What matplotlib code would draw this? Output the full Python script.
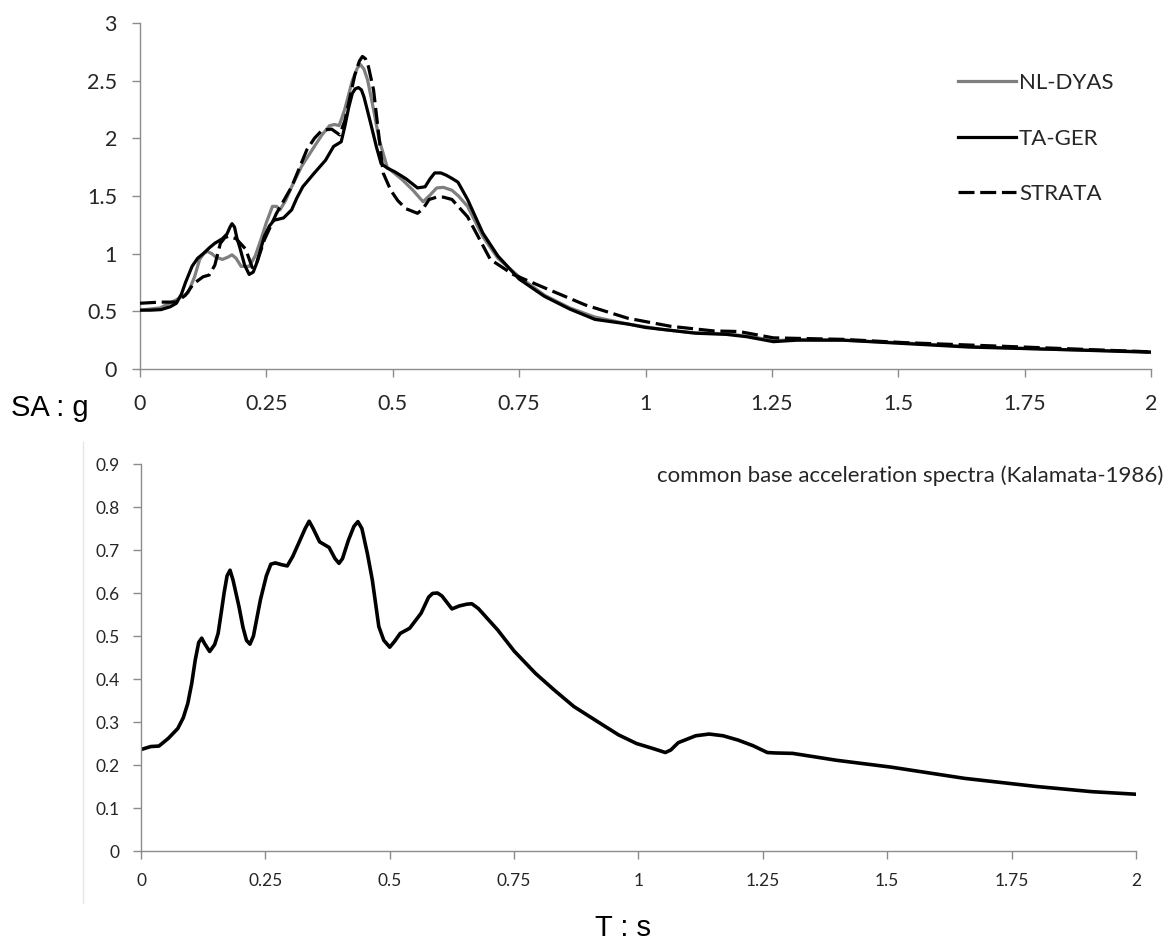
import matplotlib
matplotlib.use("Agg")
import matplotlib.pyplot as plt
from matplotlib.lines import Line2D

# top panel: surface response spectra (T in s, SA in g)
t_nl = [0, 0.04, 0.072, 0.095, 0.108, 0.118, 0.126, 0.133, 0.142, 0.15, 0.163, 0.174, 0.182,
        0.19, 0.2, 0.216, 0.228, 0.239, 0.25, 0.262, 0.27, 0.277, 0.288, 0.3, 0.32, 0.345,
        0.36, 0.375, 0.385, 0.394, 0.405, 0.42, 0.43, 0.436, 0.443, 0.45, 0.462, 0.473,
        0.489, 0.519, 0.54, 0.56, 0.572, 0.587, 0.6, 0.617, 0.63, 0.648, 0.678, 0.708,
        0.75, 0.8, 0.85, 0.9, 0.965, 1.03, 1.09, 1.16, 1.21, 1.253, 1.3, 1.39, 1.515,
        1.64, 1.81, 2.0]
sa_nl = [0.51, 0.53, 0.6, 0.66, 0.8, 0.95, 1.0, 1.02, 1.0, 0.97, 0.95, 0.97, 0.99,
         0.96, 0.89, 0.89, 0.98, 1.12, 1.27, 1.41, 1.41, 1.38, 1.46, 1.58, 1.76, 1.93,
         2.03, 2.11, 2.12, 2.11, 2.25, 2.5, 2.61, 2.64, 2.6, 2.51, 2.25, 1.99,
         1.75, 1.64, 1.55, 1.45, 1.5, 1.57, 1.575, 1.55, 1.5, 1.41, 1.15, 0.96,
         0.8, 0.64, 0.53, 0.45, 0.39, 0.345, 0.315, 0.305, 0.28, 0.245, 0.255, 0.25, 0.225,
         0.195, 0.17, 0.15]

t_ta = [0, 0.02, 0.042, 0.06, 0.072, 0.082, 0.09, 0.103, 0.114, 0.125, 0.137, 0.148, 0.163,
        0.172, 0.178, 0.182, 0.187, 0.192, 0.197, 0.207, 0.216, 0.224, 0.231, 0.246, 0.256,
        0.265, 0.275, 0.284, 0.3, 0.31, 0.322, 0.345, 0.367, 0.383, 0.398, 0.405, 0.413,
        0.42, 0.426, 0.432, 0.438, 0.443, 0.45, 0.458, 0.468, 0.477, 0.49, 0.504, 0.526,
        0.549, 0.564, 0.574, 0.583, 0.595, 0.606, 0.618, 0.629, 0.648, 0.678, 0.708, 0.75,
        0.8, 0.85, 0.9, 0.965, 1.0, 1.1, 1.16, 1.2, 1.253, 1.3, 1.39, 1.515, 1.64, 1.81, 2.0]
sa_ta = [0.51, 0.51, 0.515, 0.54, 0.57, 0.65, 0.75, 0.89, 0.96, 1.0, 1.05, 1.09, 1.13,
         1.17, 1.23, 1.26, 1.23, 1.13, 1.06, 0.9, 0.82, 0.84, 0.92, 1.15, 1.24,
         1.29, 1.3, 1.31, 1.38, 1.48, 1.58, 1.7, 1.81, 1.93, 1.97, 2.1, 2.27,
         2.39, 2.43, 2.44, 2.42, 2.36, 2.24, 2.1, 1.92, 1.78, 1.74, 1.71, 1.65,
         1.57, 1.58, 1.65, 1.7, 1.7, 1.68, 1.65, 1.62, 1.47, 1.18, 0.98, 0.78,
         0.63, 0.52, 0.43, 0.39, 0.36, 0.31, 0.3, 0.28, 0.237, 0.25, 0.25, 0.22, 0.19, 0.17, 0.145]

t_st = [0, 0.04, 0.072, 0.09, 0.106, 0.125, 0.137, 0.148, 0.159, 0.168, 0.175, 0.19, 0.209,
        0.222, 0.231, 0.246, 0.27, 0.3, 0.33, 0.345, 0.36, 0.379, 0.395, 0.405, 0.425, 0.434,
        0.44, 0.446, 0.452, 0.462, 0.481, 0.496, 0.51, 0.526, 0.549, 0.56, 0.572, 0.587,
        0.6, 0.617, 0.648, 0.693, 0.738, 0.797, 0.881, 0.965, 1.05, 1.135, 1.185, 1.253,
        1.39, 1.515, 1.75, 2.0]
sa_st = [0.57, 0.58, 0.58, 0.64, 0.74, 0.8, 0.815, 0.9, 1.09, 1.14, 1.15, 1.13, 1.04,
         0.88, 0.92, 1.12, 1.35, 1.58, 1.9, 2.0, 2.07, 2.08, 2.03, 2.15, 2.55, 2.67,
         2.71, 2.69, 2.62, 2.42, 1.7, 1.55, 1.46, 1.39, 1.35, 1.39, 1.47, 1.49,
         1.49, 1.47, 1.32, 0.95, 0.82, 0.71, 0.555, 0.44, 0.37, 0.33, 0.325, 0.27,
         0.257, 0.228, 0.19, 0.148]

# bottom panel: common base acceleration spectrum
t_base = [0, 0.02, 0.036, 0.055, 0.074, 0.085, 0.094, 0.102, 0.109, 0.116, 0.122, 0.128,
          0.138, 0.148, 0.155, 0.162, 0.167, 0.173, 0.179, 0.185, 0.197, 0.205, 0.212,
          0.219, 0.226, 0.24, 0.252, 0.261, 0.27, 0.282, 0.294, 0.305, 0.317, 0.33, 0.338,
          0.346, 0.359, 0.378, 0.39, 0.398, 0.405, 0.417, 0.428, 0.436, 0.444, 0.455,
          0.465, 0.478, 0.488, 0.5, 0.51, 0.521, 0.54, 0.563, 0.578, 0.586, 0.596, 0.605,
          0.625, 0.64, 0.655, 0.665, 0.678, 0.717, 0.75, 0.793, 0.83, 0.87, 0.923, 0.96,
          0.996, 1.03, 1.054, 1.065, 1.08, 1.115, 1.142, 1.17, 1.2, 1.23, 1.259, 1.275,
          1.31, 1.398, 1.508, 1.655, 1.8, 1.911, 2.0]
sa_base = [0.236, 0.243, 0.244, 0.262, 0.285, 0.31, 0.343, 0.39, 0.444, 0.485, 0.495, 0.482,
           0.464, 0.48, 0.506, 0.56, 0.6, 0.64, 0.653, 0.63, 0.568, 0.52, 0.49,
           0.481, 0.5, 0.584, 0.64, 0.667, 0.67, 0.666, 0.663, 0.685, 0.716, 0.75, 0.767,
           0.75, 0.719, 0.706, 0.68, 0.669, 0.68, 0.723, 0.755, 0.766, 0.75, 0.692,
           0.63, 0.522, 0.49, 0.474, 0.488, 0.506, 0.518, 0.553, 0.59, 0.599, 0.6, 0.593,
           0.563, 0.57, 0.574, 0.575, 0.564, 0.514, 0.465, 0.413, 0.375, 0.336, 0.297, 0.27,
           0.25, 0.238, 0.229, 0.235, 0.252, 0.268, 0.272, 0.268, 0.258, 0.245, 0.229, 0.228,
           0.227, 0.211, 0.195, 0.169, 0.15, 0.138, 0.132]

x_ticks = [0, 0.25, 0.5, 0.75, 1, 1.25, 1.5, 1.75, 2]
x_labels = ["0", "0.25", "0.5", "0.75", "1", "1.25", "1.5", "1.75", "2"]
top_y_ticks = [0, 0.5, 1, 1.5, 2, 2.5, 3]
top_y_labels = ["0", "0.5", "1", "1.5", "2", "2.5", "3"]
bot_y_ticks = [0, 0.1, 0.2, 0.3, 0.4, 0.5, 0.6, 0.7, 0.8, 0.9]
bot_y_labels = ["0", "0.1", "0.2", "0.3", "0.4", "0.5", "0.6", "0.7", "0.8", "0.9"]

plt.rcParams["font.family"] = ["Lato", "DejaVu Sans"]
plt.rcParams["lines.solid_joinstyle"] = "round"
plt.rcParams["lines.dash_joinstyle"] = "round"
AXIS_GREY = "#8c8c8c"
TEXT_COL = "#262626"

fig = plt.figure(figsize=(11.71, 9.43), dpi=100)
ax1 = fig.add_axes([0.11956, 0.60870, 0.86336, 0.36691])
ax2 = fig.add_axes([0.12041, 0.09756, 0.84970, 0.41039])


def style_axis(ax, fs, xpad, ypad):
    for side in ("top", "right"):
        ax.spines[side].set_visible(False)
    for side in ("left", "bottom"):
        ax.spines[side].set_color(AXIS_GREY)
        ax.spines[side].set_linewidth(1.0)
    ax.tick_params(axis="both", direction="out", length=6, width=1.0,
                   color=AXIS_GREY, labelcolor=TEXT_COL, labelsize=fs)
    ax.tick_params(axis="x", pad=xpad)
    ax.tick_params(axis="y", pad=ypad)


ax1.plot(t_nl, sa_nl, color="#7f7f7f", lw=2.3, label="NL-DYAS", zorder=2)
ax1.plot(t_ta, sa_ta, color="black", lw=2.3, label="TA-GER", zorder=3)
ax1.plot(t_st, sa_st, color="black", lw=2.3, ls=(0, (5, 1.8)), label="STRATA", zorder=4)
ax1.set_xlim(0, 2)
ax1.set_ylim(0, 3)
ax1.set_xticks(x_ticks, x_labels)
ax1.set_yticks(top_y_ticks, top_y_labels)
style_axis(ax1, 15.5, 12, 10.5)
ax1.legend(loc="upper left", bbox_to_anchor=(958 / 1171, 1 - 73 / 943),
           bbox_transform=fig.transFigure, frameon=False, fontsize=16,
           handlelength=2.6, handletextpad=0.15, labelspacing=1.6,
           borderpad=0, borderaxespad=0, labelcolor=TEXT_COL)

ax2.plot(t_base, sa_base, color="black", lw=2.6)
ax2.set_xlim(0, 2)
ax2.set_ylim(0, 0.9)
ax2.set_xticks(x_ticks, x_labels)
ax2.set_yticks(bot_y_ticks, bot_y_labels)
style_axis(ax2, 12.5, 10, 9.5)

fig.text(1163 / 1171, 1 - 476 / 943, "common base acceleration spectra (Kalamata-1986)",
         ha="right", va="center", fontsize=16, color=TEXT_COL)
fig.text(11 / 1171, 1 - 408 / 943, "SA : g", ha="left", va="center",
         fontsize=21, family="Liberation Sans", color="black")
fig.text(623 / 1171, 1 - 928 / 943, "T : s", ha="center", va="center",
         fontsize=21, family="Liberation Sans", color="black")

# faint chart-area border on the left of the lower chart
fig.add_artist(Line2D([83 / 1171, 83 / 1171], [1 - 442 / 943, 1 - 903 / 943],
                      transform=fig.transFigure, color="#e6e6e6", lw=1))

fig.savefig("out.png", dpi=100)
